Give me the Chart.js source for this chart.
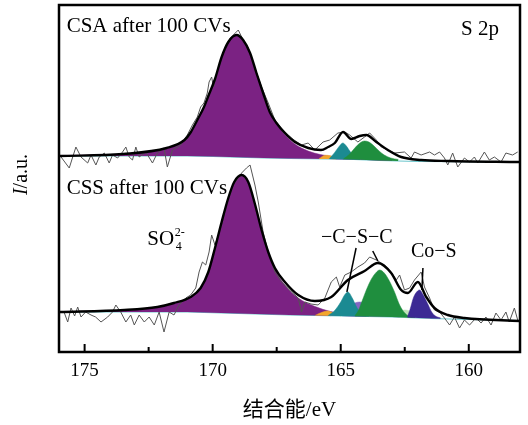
<!DOCTYPE html>
<html>
<head>
<meta charset="utf-8">
<title>S 2p</title>
<script src="https://cdn.jsdelivr.net/npm/chart.js@4.4.0/dist/chart.umd.min.js"></script>
<style>
  html, body { margin: 0; padding: 0; background: #fff; }
  canvas { display: block; }
</style>
</head>
<body>
<canvas id="xpsChart" width="528" height="425"></canvas>
<script>
(() => {
  'use strict'

  // binding energy axis (eV), drawn high -> low
  const xMin = 158;
  const xMax = 176;
  const tickValues = [175, 172.5, 170, 167.5, 165, 162.5, 160];
  const yMax = 347; // intensity, a.u.

  // ---- CSA after 100 CVs (upper trace) ----
  const csaRawEv = [175.92, 175.60, 175.34, 175.14, 174.88, 174.75, 174.56, 174.43, 174.23, 174.04, 173.91, 173.71, 173.52, 173.39, 173.26, 173.13, 173.00, 172.87, 172.61, 172.35, 172.16, 171.90, 171.77, 171.57, 171.25, 170.99, 170.79, 170.60, 170.47, 170.34, 170.21, 170.14, 170.04, 169.97, 169.78, 169.55, 169.31, 169.00, 168.81, 168.61, 168.38, 168.09, 167.83, 167.57, 167.33, 167.05, 166.82, 166.53, 166.27, 166.01, 165.69, 165.43, 165.11, 164.84, 164.65, 164.33, 164.07, 163.87, 163.61, 163.42, 163.16, 162.90, 162.51, 162.25, 162.12, 161.86, 161.53, 161.34, 161.14, 160.95, 160.82, 160.63, 160.43, 160.17, 159.97, 159.78, 159.65, 159.39, 159.20, 159.00, 158.74, 158.55, 158.29, 158.09];
  const csaRawInt = [195, 184, 205, 195, 189, 197, 187, 195, 199, 189, 197, 194, 200, 205, 195, 192, 205, 195, 200, 189, 199, 204, 185, 202, 207, 217, 227, 235, 245, 249, 259, 270, 275, 265, 284, 302, 314, 322, 312, 304, 286, 265, 249, 232, 224, 217, 212, 207, 209, 202, 210, 212, 219, 220, 217, 210, 215, 219, 212, 205, 202, 199, 200, 194, 200, 197, 200, 197, 200, 194, 187, 199, 185, 194, 190, 195, 189, 200, 192, 195, 190, 199, 197, 200];

  const csaFitEv = [176, 173.5, 171.8, 171.1, 170.85, 170.6, 170.34, 170.17, 169.91, 169.65, 169.39, 169.07, 168.81, 168.54, 168.29, 168.03, 167.77, 167.51, 167.18, 166.79, 166.27, 165.77, 165.49, 165.23, 164.91, 164.59, 164.26, 164.0, 163.61, 163.16, 162.64, 161.86, 160.82, 158];
  const csaFitInt = [196, 198, 204, 212, 220, 232, 245, 256, 273, 295, 310, 317, 312, 299, 279, 259, 240, 229, 219, 210, 204, 202, 205, 209, 220, 213, 216, 217, 210, 202, 195, 192, 191, 190];

  const csaBgEv = [176, 171, 170, 169, 168, 167, 165.5, 164.5, 163.5, 162, 158];
  const csaBgInt = [196, 196, 195.5, 194.8, 194, 193.5, 193, 192.5, 191.5, 190.5, 190];

  const csaPurpleEv = [176, 174, 172.5, 171.8, 171.1, 170.85, 170.6, 170.34, 170.17, 169.91, 169.65, 169.39, 169.07, 168.81, 168.54, 168.29, 168.03, 167.77, 167.51, 167.18, 166.79, 166.27, 165.8, 165.3, 164.5, 163];
  const csaPurpleInt = [196.5, 197.5, 200, 203.5, 211.5, 219.5, 231.5, 244.5, 255.5, 272.5, 294.5, 309.5, 316.5, 311.5, 298.5, 278.5, 258.5, 239.5, 228, 217.5, 208, 201, 197.5, 195.5, 194, 192.5];
  const csaTealEv = [165.45, 165.25, 165.08, 164.92, 164.78, 164.62, 164.45, 164.25];
  const csaTealInt = [193.2, 199, 205, 209, 206, 200, 196, 193.2];
  const csaGreenEv = [164.9, 164.65, 164.45, 164.25, 164.07, 163.9, 163.7, 163.5, 163.3, 163.05, 162.75];
  const csaGreenInt = [193, 198, 204, 209, 211, 210, 206, 201, 197, 194, 192.5];
  const csaLavenderEv = [165.2, 164.95, 164.72, 164.5, 164.2, 163.9];
  const csaLavenderInt = [193.5, 197.5, 199, 198, 195.5, 192.8];
  const csaOrangeEv = [165.85, 165.6, 165.4, 165.15];
  const csaOrangeInt = [193.3, 196.8, 196.2, 193.3];

  // ---- CSS after 100 CVs (lower trace) ----
  const cssRawEv = [175.79, 175.66, 175.53, 175.39, 175.27, 175.14, 174.96, 174.75, 174.57, 174.36, 174.10, 173.91, 173.78, 173.59, 173.39, 173.20, 173.06, 172.87, 172.67, 172.48, 172.28, 172.09, 171.90, 171.70, 171.51, 171.31, 171.05, 170.86, 170.66, 170.53, 170.40, 170.27, 170.14, 170.04, 169.91, 169.65, 169.46, 169.20, 168.87, 168.68, 168.54, 168.35, 168.22, 168.03, 167.83, 167.57, 167.31, 166.92, 166.66, 166.53, 166.40, 166.16, 165.88, 165.62, 165.37, 165.17, 165.04, 164.84, 164.59, 164.33, 164.07, 163.87, 163.61, 163.29, 163.03, 162.83, 162.70, 162.51, 162.31, 162.12, 161.86, 161.73, 161.53, 161.34, 161.14, 160.95, 160.75, 160.56, 160.36, 160.17, 159.97, 159.72, 159.52, 159.33, 159.13, 158.94, 158.74, 158.55, 158.42, 158.22, 158.09];
  const cssRawInt = [39, 30, 44, 36, 45, 35, 40, 37, 35, 30, 35, 40, 47, 40, 30, 37, 27, 37, 30, 35, 27, 40, 20, 40, 37, 47, 54, 57, 64, 80, 90, 87, 100, 117, 107, 127, 147, 167, 179, 184, 187, 167, 150, 120, 100, 80, 70, 60, 54, 40, 50, 48, 47, 54, 70, 75, 65, 77, 80, 85, 89, 95, 92, 87, 80, 72, 77, 62, 64, 72, 80, 65, 54, 42, 40, 34, 27, 35, 24, 32, 27, 34, 29, 35, 27, 39, 32, 40, 30, 44, 32];

  const cssFitEv = [176, 173.45, 172.16, 171.51, 170.86, 170.47, 170.17, 169.91, 169.65, 169.39, 169.16, 168.87, 168.61, 168.35, 168.09, 167.83, 167.57, 167.18, 166.66, 166.01, 165.37, 164.72, 164.07, 163.55, 163.03, 162.64, 162.38, 161.99, 161.66, 161.34, 160.82, 160.17, 158];
  const cssFitInt = [40, 42, 45, 49, 55, 64, 80, 104, 130, 154, 170, 177, 170, 148, 122, 100, 84, 70, 57, 51, 55, 72, 81, 89, 79, 62, 59, 70, 55, 44, 37, 34, 31];

  const cssBgEv = [176, 171, 169, 167, 165, 163, 161.5, 160, 158];
  const cssBgInt = [40, 40, 38.5, 37, 36, 35, 33.5, 32.5, 31.5];

  const cssPurpleEv = [176, 174, 173, 172.2, 171.5, 170.9, 170.5, 170.17, 169.91, 169.65, 169.39, 169.16, 168.87, 168.61, 168.35, 168.09, 167.83, 167.57, 167.18, 166.66, 166.0, 165.4, 164.8, 164.0];
  const cssPurpleInt = [40.5, 41, 42, 44.5, 48.5, 54, 63, 79, 103, 129, 153, 169, 176, 169, 147, 121, 99, 83, 67, 54, 45.5, 40.5, 38, 36.2];
  const cssTealEv = [165.5, 165.25, 165.0, 164.85, 164.72, 164.55, 164.4, 164.25, 164.1, 163.9];
  const cssTealInt = [36.3, 41, 50, 57, 60, 54, 46, 40, 37, 35.5];
  const cssLavenderEv = [165.4, 165.0, 164.7, 164.45, 164.26, 164.0, 163.7, 163.4, 163.0, 162.7];
  const cssLavenderInt = [36.2, 40, 45, 49, 50, 48, 44, 40, 36.5, 35];
  const cssGreenEv = [164.45, 164.3, 164.15, 164.0, 163.8, 163.6, 163.48, 163.3, 163.1, 162.9, 162.7, 162.5, 162.35, 162.1];
  const cssGreenInt = [36, 42, 52, 62, 73, 80, 82, 79, 71, 60, 47, 39, 36, 34.6];
  const cssPaleGreenEv = [163.0, 162.75, 162.5, 162.3, 162.1, 161.8, 161.5];
  const cssPaleGreenInt = [35, 39, 42, 41, 38, 35, 33.8];
  const cssIndigoEv = [162.4, 162.3, 162.15, 162.0, 161.92, 161.8, 161.6, 161.45, 161.3, 161.1];
  const cssIndigoInt = [35, 42, 55, 61, 62, 58, 48, 40, 36, 34];
  const cssOrangeEv = [166.0, 165.7, 165.5, 165.25, 165.0];
  const cssOrangeInt = [36.6, 40, 41, 38.5, 36];

  // leader lines under the peak labels [ev1, int1, ev2, int2]
  const pointers = [[164.40, 104, 164.76, 60], [163.75, 101, 163.55, 91], [161.79, 84, 161.83, 62]];

  const colors = {
    purple: '#7b2283',
    teal: '#1b8a92',
    lavender: '#8466c2',
    green: '#1f8e3e',
    indigo: '#3c2a94',
    paleGreen: '#bfe3b8',
    orange: '#f2a62c',
    baseline: '#6cc6cc'
  };

  const pts = (ev, val) => ev.map((e, i) => ({ x: e, y: val[i] }));

  const line = (ev, val, color, width, smooth) => ({
    data: pts(ev, val),
    borderColor: color,
    borderWidth: width,
    pointRadius: 0,
    fill: false,
    cubicInterpolationMode: smooth ? 'monotone' : 'default',
    tension: 0
  });

  const peak = (ev, val, color, trace) => ({
    data: pts(ev, val),
    borderColor: color,
    borderWidth: 0.5,
    backgroundColor: color,
    pointRadius: 0,
    cubicInterpolationMode: 'monotone',
    trace: trace
  });

  // first in the list is drawn on top
  const datasets = [
    line(cssFitEv, cssFitInt, '#000', 2.4, true),
    line(csaFitEv, csaFitInt, '#000', 2.4, true),
    line(cssRawEv, cssRawInt, '#555', 1, false),
    line(csaRawEv, csaRawInt, '#555', 1, false),
    peak(csaGreenEv, csaGreenInt, colors.green, 'csa'),
    peak(csaTealEv, csaTealInt, colors.teal, 'csa'),
    peak(csaLavenderEv, csaLavenderInt, colors.lavender, 'csa'),
    peak(csaOrangeEv, csaOrangeInt, colors.orange, 'csa'),
    peak(csaPurpleEv, csaPurpleInt, colors.purple, 'csa'),
    peak(cssIndigoEv, cssIndigoInt, colors.indigo, 'css'),
    peak(cssGreenEv, cssGreenInt, colors.green, 'css'),
    peak(cssTealEv, cssTealInt, colors.teal, 'css'),
    peak(cssPaleGreenEv, cssPaleGreenInt, colors.paleGreen, 'css'),
    peak(cssLavenderEv, cssLavenderInt, colors.lavender, 'css'),
    peak(cssOrangeEv, cssOrangeInt, colors.orange, 'css'),
    peak(cssPurpleEv, cssPurpleInt, colors.purple, 'css'),
    line(csaBgEv, csaBgInt, colors.baseline, 1.2, false),
    line(cssBgEv, cssBgInt, colors.baseline, 1.2, false)
  ];
  // fill every component down to the background of its own trace
  const bgIndex = { csa: datasets.length - 2, css: datasets.length - 1 };
  datasets.forEach(ds => {
    if (ds.trace) ds.fill = bgIndex[ds.trace];
  });

  const serif = "'Liberation Serif', 'Times New Roman', serif";

  // frame, inward ticks, y title and text labels
  const decorations = {
    id: 'decorations',
    afterDatasetsDraw(chart) {
      const { ctx, chartArea: a, scales: { x, y } } = chart;
      ctx.save();
      ctx.strokeStyle = '#000';
      ctx.fillStyle = '#000';

      ctx.lineWidth = 2;
      tickValues.forEach(v => {
        const px = x.getPixelForValue(v);
        const len = v % 5 === 0 ? 8 : 5;
        ctx.beginPath();
        ctx.moveTo(px, a.bottom);
        ctx.lineTo(px, a.bottom - len);
        ctx.stroke();
      });
      ctx.lineWidth = 2.5;
      ctx.strokeRect(a.left, a.top, a.right - a.left, a.bottom - a.top);

      ctx.lineWidth = 1.5;
      pointers.forEach(p => {
        ctx.beginPath();
        ctx.moveTo(x.getPixelForValue(p[0]), y.getPixelForValue(p[1]));
        ctx.lineTo(x.getPixelForValue(p[2]), y.getPixelForValue(p[3]));
        ctx.stroke();
      });

      ctx.textBaseline = 'alphabetic';
      ctx.textAlign = 'left';
      const text = (str, ev, val, size) => {
        ctx.font = `${size}px ${serif}`;
        ctx.fillText(str, x.getPixelForValue(ev), y.getPixelForValue(val));
      };
      text('CSA after 100 CVs', 175.7, 320, 21);
      text('S 2p', 160.3, 317, 21);
      text('CSS after 100 CVs', 175.7, 158, 21);
      text('\u2212C\u2212S\u2212C', 165.77, 109, 20);
      text('Co\u2212S', 162.26, 95, 20);

      // SO4 2- with stacked sub/superscript
      ctx.font = `21px ${serif}`;
      const soX = x.getPixelForValue(172.55);
      const soY = y.getPixelForValue(107);
      ctx.fillText('SO', soX, soY);
      const w = ctx.measureText('SO').width;
      ctx.font = `12px ${serif}`;
      ctx.fillText('2-', soX + w + 0.5, soY - 9);
      ctx.fillText('4', soX + w + 1.5, soY + 5);

      // y title: italic I, then /a.u.
      ctx.translate(22, (a.top + a.bottom) / 2 - 4);
      ctx.rotate(-Math.PI / 2);
      ctx.textBaseline = 'middle';
      ctx.font = `italic 20px ${serif}`;
      const wI = ctx.measureText('I').width;
      ctx.font = `20px ${serif}`;
      const wRest = ctx.measureText('/a.u.').width;
      const x0 = -(wI + wRest) / 2;
      ctx.font = `italic 20px ${serif}`;
      ctx.fillText('I', x0, 0);
      ctx.font = `20px ${serif}`;
      ctx.fillText('/a.u.', x0 + wI, 0);
      ctx.restore();
    }
  };

  const ctx = document.getElementById('xpsChart');
  // eslint-disable-next-line no-unused-vars
  const xpsChart = new Chart(ctx, {
    type: 'line',
    data: { datasets: datasets },
    options: {
      responsive: false,
      animation: false,
      events: [],
      layout: { padding: { left: 59, right: 8, top: 5, bottom: 0 } },
      plugins: {
        legend: { display: false },
        tooltip: { enabled: false }
      },
      scales: {
        x: {
          type: 'linear',
          reverse: true,
          min: xMin,
          max: xMax,
          afterBuildTicks: scale => {
            scale.ticks = tickValues.map(v => ({ value: v }));
          },
          grid: { display: false, drawTicks: false },
          border: { display: false },
          ticks: {
            padding: 8,
            maxRotation: 0,
            autoSkip: false,
            color: '#000',
            font: { family: serif, size: 19 },
            callback: v => (v % 5 === 0 ? String(v) : '')
          },
          title: {
            display: true,
            text: '结合能/eV',
            color: '#000',
            font: { family: "'Liberation Serif', 'Noto Sans CJK SC', serif", size: 21 },
            padding: { top: 7, bottom: 2 }
          }
        },
        y: {
          display: false,
          min: 0,
          max: yMax
        }
      }
    },
    plugins: [decorations]
  });
})();
</script>
</body>
</html>
